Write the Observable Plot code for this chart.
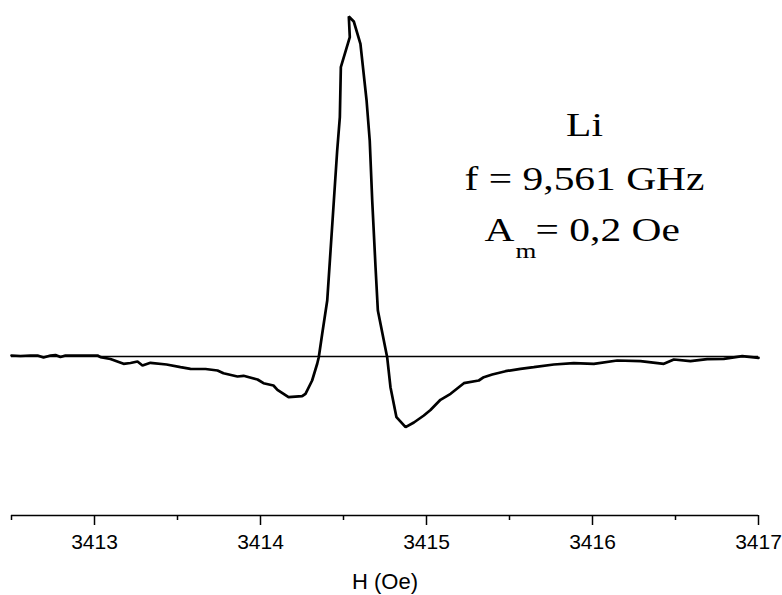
<!DOCTYPE html>
<html>
<head>
<meta charset="utf-8">
<script src="https://cdn.jsdelivr.net/npm/d3@7"></script>
<script src="https://cdn.jsdelivr.net/npm/@observablehq/plot@0.6"></script>
<style>
  html, body { margin: 0; padding: 0; background: white; }
  svg { display: block; }
</style>
</head>
<body>
<div id="chart"></div>
<script>
// Magnetic field H (Oe)
const field = [
  3412.500, 3412.554, 3412.614, 3412.657, 3412.693, 3412.735, 3412.765, 3412.795, 3412.825, 3412.886,
  3412.946, 3413.018, 3413.036, 3413.096, 3413.175, 3413.217, 3413.259, 3413.289, 3413.337, 3413.434,
  3413.518, 3413.578, 3413.669, 3413.741, 3413.777, 3413.861, 3413.898, 3413.982, 3414.018, 3414.078,
  3414.102, 3414.169, 3414.251, 3414.271, 3414.311, 3414.342, 3414.351, 3414.372, 3414.402, 3414.422,
  3414.442, 3414.462, 3414.478, 3414.484, 3414.538, 3414.532, 3414.562, 3414.602, 3414.639, 3414.658,
  3414.673, 3414.693, 3414.707, 3414.763, 3414.783, 3414.819, 3414.874, 3414.924, 3414.984, 3415.024,
  3415.084, 3415.145, 3415.225, 3415.315, 3415.345, 3415.396, 3415.476, 3415.566, 3415.646, 3415.767,
  3415.887, 3416.008, 3416.149, 3416.289, 3416.430, 3416.490, 3416.590, 3416.691, 3416.791, 3416.902,
  3417.000
];
// ESR signal (arbitrary units)
const signal = [
  0.10, 0.05, 0.10, 0.10, -0.10, 0.10, 0.15, -0.05, 0.10, 0.10,
  0.10, 0.10, -0.07, -0.25, -0.73, -0.65, -0.50, -0.90, -0.63, -0.80,
  -1.07, -1.23, -1.25, -1.40, -1.67, -2.00, -1.93, -2.30, -2.67, -2.90,
  -3.33, -4.07, -3.97, -3.73, -2.40, -0.70, -0.07, 2.30, 5.60, 10.60,
  15.60, 20.60, 23.93, 28.93, 31.93, 34.00, 33.50, 31.27, 25.60, 21.60,
  15.60, 8.93, 4.60, -0.07, -3.07, -6.07, -7.07, -6.60, -5.90, -5.35,
  -4.33, -3.73, -2.67, -2.40, -2.07, -1.80, -1.47, -1.23, -1.07, -0.80,
  -0.67, -0.73, -0.40, -0.47, -0.73, -0.30, -0.47, -0.27, -0.23, 0.03,
  -0.13
];
const majorTicks = [3413, 3414, 3415, 3416, 3417];
const minorTicks = [3412.5, 3413.5, 3414.5, 3415.5, 3416.5];
const xLabel = "H (Oe)";
const noteLines = ["Li", "f = 9,561 GHz"];
const noteA = "A";
const noteSub = "m";
const noteRest = "= 0,2 Oe";

const data = field.map((h, i) => ({h, s: signal[i]}));
const xDomain = [3412.5, 3417];
const yDomain = [-15.9, 35.6];

const serif = "'Liberation Serif', 'Times New Roman', serif";

const chart = Plot.plot({
  width: 782,
  height: 595,
  marginLeft: 11,
  marginRight: 24,
  marginTop: 0,
  marginBottom: 80,
  style: {fontFamily: "'Liberation Sans', Arial, sans-serif", background: "white", color: "black", overflow: "visible"},
  x: {domain: xDomain},
  y: {domain: yDomain, axis: null},
  marks: [
    Plot.ruleY([0], {stroke: "black", strokeWidth: 1.3}),
    Plot.ruleY([yDomain[0]], {stroke: "black", strokeWidth: 1.5}),
    Plot.axisX({ticks: majorTicks, tickSize: 10, tickPadding: 9, strokeWidth: 1.5, fontSize: 21, tickFormat: d => String(d), label: null}),
    Plot.axisX({ticks: minorTicks, tickSize: 5, strokeWidth: 1.5, text: null, label: null}),
    Plot.text([xLabel], {frameAnchor: "bottom", dy: 66, fontSize: 22, lineAnchor: "middle"}),
    Plot.line(data, {x: "h", y: "s", stroke: "black", strokeWidth: 2.7, strokeLinejoin: "miter"}),
    Plot.text([noteLines[0]], {x: 3415.952, y: 22.1, fontSize: 34, fontFamily: serif, textAnchor: "middle", lineAnchor: "bottom"}),
    Plot.text([noteLines[1]], {x: 3415.952, y: 16.7, fontSize: 34, fontFamily: serif, textAnchor: "middle", lineAnchor: "bottom"}),
    Plot.text([noteA], {x: 3415.350, y: 11.6, fontSize: 34, fontFamily: serif, textAnchor: "start", lineAnchor: "bottom"}),
    Plot.text([noteSub], {x: 3415.536, y: 9.9, fontSize: 22, fontFamily: serif, textAnchor: "start", lineAnchor: "bottom"}),
    Plot.text([noteRest], {x: 3415.657, y: 11.6, fontSize: 34, fontFamily: serif, textAnchor: "start", lineAnchor: "bottom"})
  ]
});

// widen the annotation glyphs horizontally like the reference
const stretched = new Set([...noteLines, noteA, noteSub, noteRest]);
d3.select(chart).selectAll("text").each(function() {
  if (!stretched.has(this.textContent)) return;
  const tr = this.getAttribute("transform") || "";
  const x = +this.getAttribute("x") || 0;
  const y = +this.getAttribute("y") || 0;
  this.setAttribute("transform", `${tr} translate(${x},${y}) scale(1.22,1) translate(${-x},${-y})`);
});

document.getElementById("chart").appendChild(chart);
</script>
</body>
</html>
